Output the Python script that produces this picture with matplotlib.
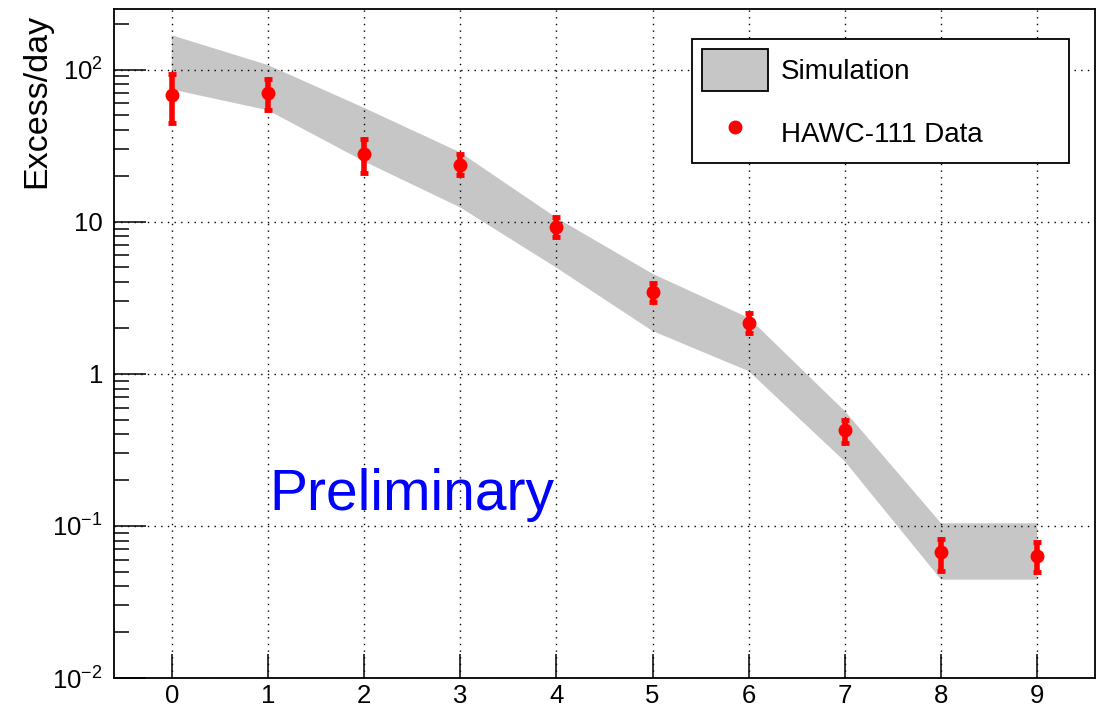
import matplotlib
matplotlib.use("Agg")
import matplotlib.pyplot as plt
import numpy as np
from matplotlib.patches import Patch
from matplotlib.lines import Line2D
from matplotlib.ticker import FixedLocator, FixedFormatter, LogLocator, NullFormatter

plt.rcParams['font.family'] = ['Liberation Sans', 'DejaVu Sans']

# ---- data ----
band_x = [0, 1, 2, 3, 4, 5, 6, 7, 8, 9]
band_hi = [168, 107, 56, 28.5, 10.6, 4.54, 2.33, 0.567, 0.104, 0.104]
band_lo = [74, 54, 24.9, 12.4, 4.98, 1.91, 1.04, 0.265, 0.0443, 0.0443]

data_x = [0, 1, 2, 3, 4, 5, 6, 7, 8, 9]
data_y = [68.4, 70.5, 27.7, 23.4, 9.16, 3.46, 2.17, 0.424, 0.0671, 0.0635]
data_hi = [93, 86, 35, 27.7, 10.7, 3.95, 2.49, 0.496, 0.0822, 0.0788]
data_lo = [44.5, 54.5, 21, 20.3, 7.96, 2.98, 1.84, 0.351, 0.0508, 0.0495]

xticks = [0, 1, 2, 3, 4, 5, 6, 7, 8, 9]
yticks = [0.01, 0.1, 1, 10, 100]
ytick_labels = [r'$\mathregular{10^{-2}}$', r'$\mathregular{10^{-1}}$', '1', '10', r'$\mathregular{10^{2}}$']

fig = plt.figure(figsize=(11.03, 7.07), dpi=100)
ax = fig.add_axes([114/1103, 1 - 678/707, 981/1103, 669/707])

ax.set_yscale('log')
ax.set_xlim(-0.6, 9.6)
ax.set_ylim(0.01, 250)

ax.fill_between(band_x, band_lo, band_hi, facecolor='#c6c6c6', edgecolor='none', zorder=1)

ax.grid(True, which='major', color='black', linewidth=1.0, linestyle=(0, (1, 3.8)), zorder=2)
ax.set_axisbelow(False)

yerr = [np.array(data_y) - np.array(data_lo), np.array(data_hi) - np.array(data_y)]
ax.errorbar(data_x, data_y, yerr=yerr, fmt='o', color='red', ms=9, elinewidth=4,
            capsize=3.2, capthick=3.5, zorder=5)

ax.xaxis.set_major_locator(FixedLocator(xticks))
ax.yaxis.set_major_locator(FixedLocator(yticks))
ax.yaxis.set_major_formatter(FixedFormatter(ytick_labels))
ax.yaxis.set_minor_locator(LogLocator(base=10, subs=np.arange(2, 10)))
ax.yaxis.set_minor_formatter(NullFormatter())
ax.xaxis.set_minor_locator(FixedLocator([]))

ax.tick_params(axis='x', which='major', direction='in', length=17, width=1.1, labelsize=18.5, pad=4.5,
               top=False)
ax.tick_params(axis='y', which='major', direction='in', length=23, width=1.1, labelsize=18.5, pad=8,
               right=False)
ax.tick_params(axis='y', which='minor', direction='in', length=10.8, width=1.1, right=False)

for s in ax.spines.values():
    s.set_linewidth(1.3)

ax.set_ylabel('Excess/day', fontsize=24.5, loc='top')
ax.yaxis.set_label_coords(-0.063, 0.993)

ax.text(1.02, 0.128, 'Preliminary', color='#0000ff', fontsize=41, ha='left', va='baseline', zorder=6)

handles = [Patch(facecolor='#c6c6c6', edgecolor='black', linewidth=1.3),
           Line2D([], [], marker='o', color='red', linestyle='none', ms=9)]
leg = ax.legend(handles, ['Simulation', 'HAWC-111 Data'], loc='upper left',
                bbox_to_anchor=(0.589, 0.955, 0.3845, 0.0), mode='expand', borderaxespad=0,
                fontsize=20, fancybox=False, framealpha=1, edgecolor='black',
                handlelength=2.38, handleheight=1.95, handletextpad=0.47,
                labelspacing=0.75, borderpad=0.35)
leg.get_frame().set_linewidth(1.3)
leg.set_zorder(10)

fig.savefig('out.png', dpi=100)
